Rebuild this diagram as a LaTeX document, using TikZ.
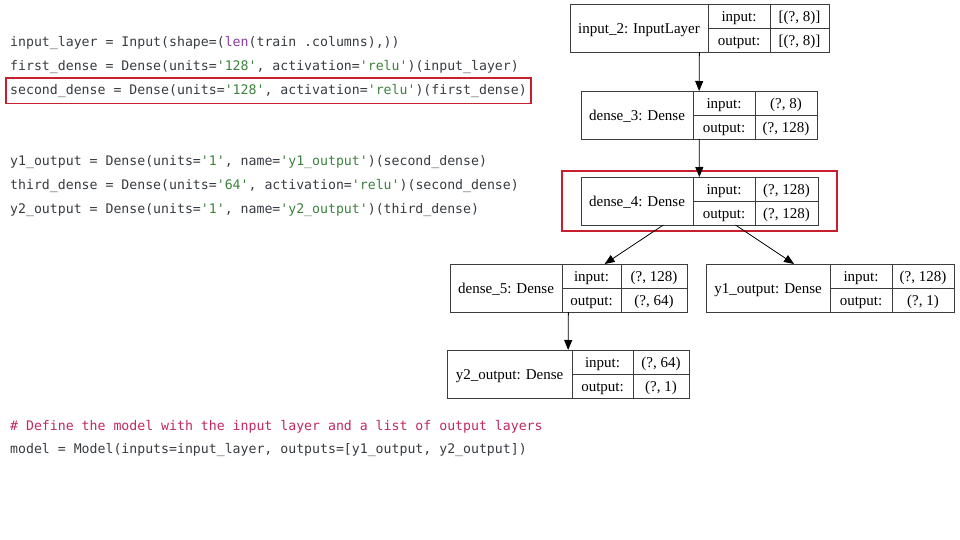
\documentclass[tikz,border=0pt]{standalone}
\usepackage{fontspec}
\setmainfont{Liberation Serif}
\setmonofont{DejaVu Sans Mono}
\usetikzlibrary{positioning,fit,arrows.meta}
\definecolor{codegray}{RGB}{55,60,65}
\definecolor{codegreen}{RGB}{60,130,60}
\definecolor{codepurple}{RGB}{140,60,160}
\definecolor{codecomment}{RGB}{190,40,100}
\definecolor{hired}{RGB}{200,30,45}
\definecolor{boxline}{RGB}{60,60,60}
\begin{document}
\begin{tikzpicture}[x=1pt, y=-1pt,
	code/.style = {anchor=mid west, inner sep=0, font=\ttfamily\fontsize{13.2}{16}\selectfont, text=codegray},
	namecell/.style = {draw=boxline, line width=0.8pt, anchor=north west, outer sep=0, minimum height=48, inner sep=0, text height=12.5, text depth=2, font=\fontsize{15}{18}\selectfont},
	cell/.style = {draw=boxline, line width=0.8pt, anchor=north west, outer sep=0, minimum height=24, inner sep=0, text height=12.5, text depth=2, font=\fontsize{15}{18}\selectfont},
	layer/.style = {inner sep=0, outer sep=0},
	hilite/.style = {draw=hired, line width=1.6pt},
	arr/.style = {-{Triangle[length=10pt,width=8pt]}, line width=0.8pt, black}]
	\useasboundingbox (0,0) rectangle (960,540);

	% code on the left
	\node[code] (c1) at (10,44) {input\_layer = Input(shape=({\color{codepurple}len}(train .columns),))};
	\node[code] (c2) at (10,68) {first\_dense = Dense(units={\color{codegreen}'128'}, activation={\color{codegreen}'relu'})(input\_layer)};
	\node[code] (c3) at (10,92) {second\_dense = Dense(units={\color{codegreen}'128'}, activation={\color{codegreen}'relu'})(first\_dense)};
	\node[code] (c4) at (10,163) {y1\_output = Dense(units={\color{codegreen}'1'}, name={\color{codegreen}'y1\_output'})(second\_dense)};
	\node[code] (c5) at (10,187) {third\_dense = Dense(units={\color{codegreen}'64'}, activation={\color{codegreen}'relu'})(second\_dense)};
	\node[code] (c6) at (10,211) {y2\_output = Dense(units={\color{codegreen}'1'}, name={\color{codegreen}'y2\_output'})(third\_dense)};
	\node[code, text=codecomment] (c7) at (10,428) {\# Define the model with the input layer and a list of output layers};
	\node[code] (c8) at (10,451) {model = Model(inputs=input\_layer, outputs=[y1\_output, y2\_output])};
	\node[hilite, fit=(c3), inner xsep=4, inner ysep=6] (c3hl) {};

	% input_2
	\node[namecell, minimum width=138] (input2n) at (570,4) {input\_2: InputLayer};
	\node[cell, minimum width=62] (input2ik) at (input2n.north east) {input:};
	\node[cell, minimum width=62] (input2ok) at (input2ik.south west) {output:};
	\node[cell, minimum width=59] (input2iv) at (input2ik.north east) {[(?, 8)]};
	\node[cell, minimum width=59] (input2ov) at (input2ok.north east) {[(?, 8)]};
	\node[layer, fit=(input2n)(input2ov)] (input2) {};

	% dense_3
	\node[namecell, minimum width=112] (dense3n) at (581,91) {dense\_3: Dense};
	\node[cell, minimum width=62] (dense3ik) at (dense3n.north east) {input:};
	\node[cell, minimum width=62] (dense3ok) at (dense3ik.south west) {output:};
	\node[cell, minimum width=62] (dense3iv) at (dense3ik.north east) {(?, 8)};
	\node[cell, minimum width=62] (dense3ov) at (dense3ok.north east) {(?, 128)};
	\node[layer, fit=(dense3n)(dense3ov)] (dense3) {};

	% dense_4
	\node[namecell, minimum width=112] (dense4n) at (581,177) {dense\_4: Dense};
	\node[cell, minimum width=62] (dense4ik) at (dense4n.north east) {input:};
	\node[cell, minimum width=62] (dense4ok) at (dense4ik.south west) {output:};
	\node[cell, minimum width=63] (dense4iv) at (dense4ik.north east) {(?, 128)};
	\node[cell, minimum width=63] (dense4ov) at (dense4ok.north east) {(?, 128)};
	\node[layer, fit=(dense4n)(dense4ov)] (dense4) {};
	\node[hilite, fit=(dense4), inner xsep=19, inner ysep=6] (dense4hl) {};

	% dense_5
	\node[namecell, minimum width=112] (dense5n) at (450,264) {dense\_5: Dense};
	\node[cell, minimum width=59] (dense5ik) at (dense5n.north east) {input:};
	\node[cell, minimum width=59] (dense5ok) at (dense5ik.south west) {output:};
	\node[cell, minimum width=66] (dense5iv) at (dense5ik.north east) {(?, 128)};
	\node[cell, minimum width=66] (dense5ov) at (dense5ok.north east) {(?, 64)};
	\node[layer, fit=(dense5n)(dense5ov)] (dense5) {};

	% y1_output
	\node[namecell, minimum width=124] (y1outn) at (706,264) {y1\_output: Dense};
	\node[cell, minimum width=62] (y1outik) at (y1outn.north east) {input:};
	\node[cell, minimum width=62] (y1outok) at (y1outik.south west) {output:};
	\node[cell, minimum width=62] (y1outiv) at (y1outik.north east) {(?, 128)};
	\node[cell, minimum width=62] (y1outov) at (y1outok.north east) {(?, 1)};
	\node[layer, fit=(y1outn)(y1outov)] (y1out) {};

	% y2_output
	\node[namecell, minimum width=125] (y2outn) at (447,350) {y2\_output: Dense};
	\node[cell, minimum width=61] (y2outik) at (y2outn.north east) {input:};
	\node[cell, minimum width=61] (y2outok) at (y2outik.south west) {output:};
	\node[cell, minimum width=56] (y2outiv) at (y2outik.north east) {(?, 64)};
	\node[cell, minimum width=56] (y2outov) at (y2outok.north east) {(?, 1)};
	\node[layer, fit=(y2outn)(y2outov)] (y2out) {};

	\draw[arr] (input2) -- (dense3);
	\draw[arr] (dense3) -- (dense4);
	\draw[arr] (dense4) -- (dense5);
	\draw[arr] (dense4) -- (y1out);
	\draw[arr] (dense5) -- (y2out);
\end{tikzpicture}
\end{document}
